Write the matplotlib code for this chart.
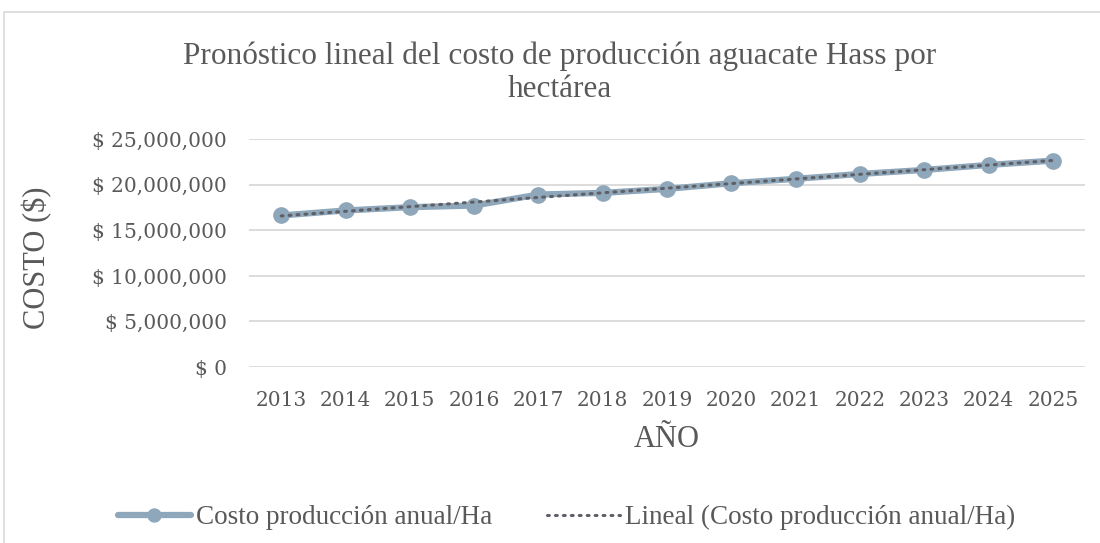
import numpy as np
import matplotlib.pyplot as plt
from matplotlib.ticker import FuncFormatter
from matplotlib.patches import Rectangle

years = ["2013", "2014", "2015", "2016", "2017", "2018", "2019",
         "2020", "2021", "2022", "2023", "2024", "2025"]
costo = [16640000, 17190000, 17550000, 17730000, 18940000, 19120000, 19560000,
         20180000, 20660000, 21200000, 21640000, 22190000, 22660000]

title = "Pronóstico lineal del costo de producción aguacate Hass por\nhectárea"
label_serie = "Costo producción anual/Ha"
label_trend = "Lineal (Costo producción anual/Ha)"

plt.rcParams["font.family"] = ["DejaVu Serif"]
text_color = "#595959"

fig = plt.figure(figsize=(11, 5.43), dpi=100)
ax = fig.add_axes([0.2264, 0.3241, 0.76, 0.4193])

x = np.arange(len(years))
# linear trendline (least squares, like the spreadsheet's "Lineal")
m, b = np.polyfit(x, costo, 1)
trend = m * x + b

ax.plot(x, costo, color="#8FA7BA", lw=4.5, marker="o", ms=11,
        solid_capstyle="round", label=label_serie, zorder=3)
ax.plot(x, trend, color="#5F5F66", lw=2.2, linestyle=(0, (0.6, 2.0)),
        dash_capstyle="round", label=label_trend, zorder=4)

ax.set_xlim(-0.5, len(years) - 0.5)
ax.set_ylim(0, 25000000)
ax.set_yticks(np.arange(0, 25000001, 5000000))
ax.yaxis.set_major_formatter(FuncFormatter(lambda v, p: "$ {:,.0f}".format(v)))
ax.set_xticks(x)
ax.set_xticklabels(years)

ax.grid(axis="y", color="#D9D9D9", lw=1.3)
ax.set_axisbelow(True)
for s in ax.spines.values():
    s.set_visible(False)
ax.tick_params(length=0, colors=text_color, labelsize=14.5)
ax.tick_params(axis="y", pad=16)
ax.tick_params(axis="x", pad=17)

ax.set_ylabel("COSTO ($)", fontsize=22, color=text_color,
              family="Liberation Serif", va="center")
ax.yaxis.set_label_coords(-0.254, 0.48)
ax.set_xlabel("AÑO", fontsize=22, color=text_color,
              family="Liberation Serif", va="center")
ax.xaxis.set_label_coords(0.5, -0.32)
fig.text(0.509, 0.866, title, ha="center", va="center", fontsize=22.5,
         color=text_color, family="Liberation Serif", linespacing=1.15)

leg = fig.legend(loc="center", bbox_to_anchor=(0.515, 0.047), ncol=2,
                 frameon=False, prop={"family": "Liberation Serif", "size": 19.5},
                 handlelength=2.7, columnspacing=2.0, handletextpad=0.2,
                 markerscale=0.85)
for t in leg.get_texts():
    t.set_color(text_color)

# chart area border
fig.patches.append(Rectangle((4 / 1100, -0.05), 1.2, 1 - 12 / 543 + 0.05,
                             transform=fig.transFigure, fill=False,
                             edgecolor="#D9D9D9", lw=1.2))

fig.savefig("out.png", dpi=100)
